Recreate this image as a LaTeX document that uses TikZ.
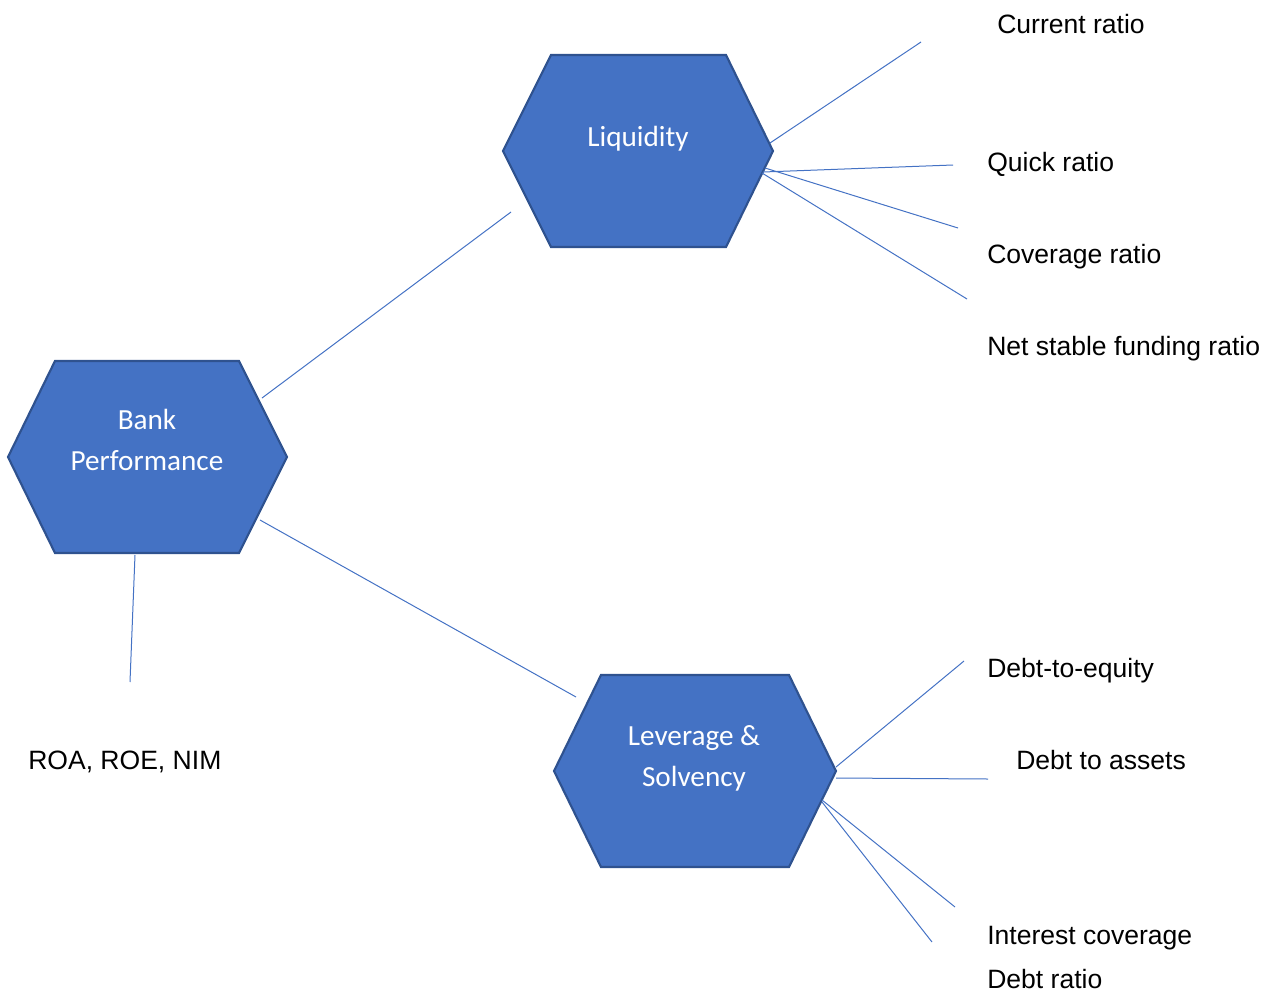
\documentclass[tikz,border=0pt]{standalone}
\usepackage{fontspec}
\setmainfont{Liberation Sans}
\newfontfamily\hexfont{Carlito}
\definecolor{hexfill}{HTML}{4472C4}
\definecolor{hexedge}{HTML}{2F528F}
\definecolor{linkblue}{HTML}{4472C4}
\begin{document}
\begin{tikzpicture}[x=0.75pt,y=-0.75pt,
  hexpath/.style={fill=hexfill,draw=hexedge,line width=1.6pt,line join=miter},
  hexlabel/.style={text=white,font=\hexfont\fontsize{21.9}{30.75}\selectfont,align=center,inner sep=0pt},
  leaf/.style={anchor=base west,inner sep=0pt,font=\fontsize{19.9}{24}\selectfont,text=black},
  link/.style={draw=linkblue,line width=0.75pt}]
\useasboundingbox (0,0) rectangle (1270,992);
% hexagons
\draw[hexpath] (551,55) -- (726,55) -- (773,151) -- (726,247) -- (551,247) -- (503,151) -- cycle;
\draw[hexpath] (55,361) -- (239,361) -- (287,457) -- (239,553) -- (55,553) -- (8,457) -- cycle;
\draw[hexpath] (601,675) -- (789,675) -- (836,771) -- (789,867) -- (601,867) -- (554,771) -- cycle;
\node[hexlabel] (liq) at (638,139) {Liquidity};
\node[hexlabel] (bank) at (147,440) {Bank\\Performance};
\node[hexlabel] (lev) at (694,758) {Leverage \&\\Solvency};
% leaf labels
\node[leaf] (cur) at (997,33) {Current ratio};
\node[leaf] (quick) at (987,171) {Quick ratio};
\node[leaf] (cov) at (987,263) {Coverage ratio};
\node[leaf] (nsfr) at (987,355) {Net stable funding ratio};
\node[leaf] (dte) at (987,677) {Debt-to-equity};
\node[leaf] (dta) at (1016,769) {Debt to assets};
\node[leaf] (ic) at (987,944) {Interest coverage};
\node[leaf] (dr) at (987,988) {Debt ratio};
\node[leaf] (roa) at (28,769) {ROA, ROE, NIM};
% connector end points
\coordinate (b1) at (262,398); \coordinate (l0) at (511,212);
\coordinate (b2) at (260,520); \coordinate (v0) at (576,697);
\coordinate (b3) at (135,555); \coordinate (r0) at (130,682);
\coordinate (la) at (770,143); \coordinate (ea) at (921,42);
\coordinate (lb) at (763,172); \coordinate (eb) at (953,165);
\coordinate (lc) at (765,168); \coordinate (ec) at (958,228);
\coordinate (ld) at (762,173); \coordinate (ed) at (967,299);
\coordinate (va) at (836,767); \coordinate (fa) at (964,661);
\coordinate (vb) at (836,778); \coordinate (fb) at (988,779);
\coordinate (vc) at (822,800); \coordinate (fc) at (955,907);
\coordinate (vd) at (822,802); \coordinate (fd) at (932,942);
% connectors
\draw[link] (b1) -- (l0);
\draw[link] (b2) -- (v0);
\draw[link] (b3) -- (r0);
\draw[link] (la) -- (ea);
\draw[link] (lb) -- (eb);
\draw[link] (lc) -- (ec);
\draw[link] (ld) -- (ed);
\draw[link] (va) -- (fa);
\draw[link] (vb) -- (fb);
\draw[link] (vc) -- (fc);
\draw[link] (vd) -- (fd);
\end{tikzpicture}
\end{document}
